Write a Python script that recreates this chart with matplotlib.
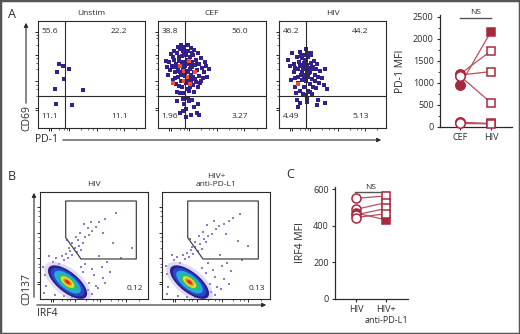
import matplotlib
matplotlib.use('Agg')
import matplotlib.pyplot as plt
from matplotlib.patches import Ellipse, Polygon, Rectangle, FancyArrowPatch
from matplotlib.ticker import FixedLocator

plt.rcParams['font.family'] = ['Open Sans', 'DejaVu Sans']

W, H = 520, 334
fig = plt.figure(figsize=(5.2, 3.34), dpi=100)

NAVY = '#33208c'
RED = '#a8283d'
LINE = '#b8505e'
DARK = '#2a2a2a'

# ---------------- DATA ----------------
# Panel A dot plots (units 0-100 within each plot)
unstim_x = [23.4, 17.8, 29.0, 24.3, 15.9, 42.0, 16.8, 31.8, 20.0]
unstim_y = [57.9, 52.3, 55.1, 45.8, 36.4, 35.5, 22.4, 21.5, 60.0]

cef_x = [10.4, 12.7, 14.2, 15.6, 16.3, 17.8, 18.5, 18.1, 19.6, 20.3, 20.8, 21.4, 21.9, 22.6, 22.2,
         23.5, 23.1, 24.7, 24.2, 25.4, 25.9, 26.6, 26.1, 27.3, 27.8, 28.4, 28.9, 29.2, 29.7, 30.5,
         30.1, 31.6, 31.2, 32.8, 32.3, 33.4, 34.7, 34.1, 35.5, 36.2, 37.6, 38.3, 39.5, 40.8, 42.4,
         44.1, 45.3, 47.2, 13.5, 11.2, 8.6, 9.3, 7.4, 14.8, 16.7, 19.2, 17.4, 20.6, 23.8, 26.4,
         29.5, 33.1, 36.7, 38.5, 41.3, 43.6, 40.2, 37.1, 33.7, 30.8, 27.5, 24.4, 21.1, 18.8, 22.9,
         25.6, 19.9, 15.2, 12.3, 28.1, 30.3, 26.9, 23.3, 21.6, 24.5, 27.1, 32.5, 35.2, 18.3, 16.1,
         14.6, 31.4, 36.4, 29.8, 25.2, 22.4,
         22.7, 24.1, 26.3, 28.6, 30.2, 20.5, 33.3, 35.8, 38.1, 25.5, 27.4, 23.6, 31.7, 17.2, 36.6]
cef_y = [62, 58, 66, 52, 60, 70, 48, 56, 63, 74, 52, 44, 59, 67, 38, 55, 62, 49, 70, 58,
         42, 64, 53, 47, 72, 60, 35, 55, 66, 50, 44, 62, 57, 40, 68, 52, 59, 46, 64, 54,
         49, 60, 44, 56, 52, 58, 48, 55, 45, 54, 57, 50, 63, 72, 41, 39, 34, 33, 33, 36,
         38, 34, 38, 42, 47, 62, 65, 70, 73, 75, 78, 76, 78, 76, 72, 68, 66, 64, 69, 52,
         58, 45, 44, 50, 57, 61, 48, 43, 53, 47, 57, 70, 60, 46, 51, 61,
         27, 22, 18, 25, 12, 14, 20, 14, 12, 10, 28, 16, 26, 25, 22]
cef_red_x = [29, 24, 34, 13.6, 24, 30, 20, 27]
cef_red_y = [63, 53.6, 52.6, 42.3, 44, 41, 58, 48]

hiv_x = [8.3, 10.6, 12.2, 13.7, 14.4, 15.1, 16.8, 17.3, 18.6, 18.2, 19.5, 20.7, 20.2, 21.8, 21.3,
         22.4, 22.9, 23.2, 23.7, 24.5, 24.1, 24.8, 25.3, 25.7, 26.2, 26.6, 26.9, 27.4, 27.1, 28.3,
         28.7, 29.5, 29.1, 30.6, 30.2, 31.3, 31.8, 32.4, 33.2, 33.7, 34.5, 35.3, 36.6, 37.2, 38.4,
         40.3, 41.6, 43.2, 45.1, 11.4, 14.7, 16.2, 19.3, 22.1, 25.5, 28.8, 31.2, 34.3, 17.6, 15.4,
         20.4, 26.3, 29.7, 32.2, 23.5, 21.6, 27.7, 19.8, 24.3, 30.4,
         16.5, 19.6, 25.9, 25.9, 36.8, 43.0, 17.8, 35.4]
hiv_y = [64, 58, 70, 52, 60, 47, 66, 55, 62, 42, 71, 50, 58, 65, 45, 55, 38, 61, 68, 50,
         57, 74, 44, 63, 53, 59, 35, 48, 66, 56, 41, 61, 52, 46, 70, 57, 38, 63, 50, 44,
         55, 60, 48, 42, 53, 47, 40, 55, 36, 45, 38, 33, 35, 32, 31, 34, 32, 37, 48, 56,
         67, 70, 68, 57, 46, 52, 51, 59, 64, 55,
         26, 23, 28, 24.6, 26, 23, 20, 21.5]
hiv_red_x = [17.5]
hiv_red_y = [40.8]

dot_titles = ['Unstim', 'CEF', 'HIV']
quad_labels = [['55.6', '22.2', '11.1', '11.1'],
               ['38.8', '56.0', '1.96', '3.27'],
               ['46.2', '44.2', '4.49', '5.13']]

# PD-1 MFI (panel A right)
pd1_groups = ['CEF', 'HIV']
pd1_cef = [950, 1200, 1180, 1160, 110, 80]
pd1_hiv = [2170, 1730, 1260, 550, 80, 70]
pd1_filled = [True, False, False, False, False, False]

# Panel B: gate polygon & sparse events (units 0-100)
gate_x = [23.8, 89.2, 89.2, 38.0, 23.8]
gate_y = [91.6, 91.6, 37.4, 37.4, 57.3]
b_titles = ['HIV', 'HIV+\nanti-PD-L1']
b_gate_pct = ['0.12', '0.13']
b1_x = [12, 15, 18, 20, 22, 24, 26, 28, 30, 32, 34, 36, 38, 35, 40, 42, 45, 48, 52, 44,
        55, 60, 70, 85, 57, 50, 45, 48, 52, 40, 42, 38, 55, 62, 58, 65, 5, 3, 8, 10,
        6, 4, 14, 22, 30, 36, 44, 48, 54, 60, 33, 30, 27, 25, 37, 41, 47, 58, 75, 68]
b1_y = [35, 38, 33, 40, 36, 42, 38, 45, 41, 48, 44, 50, 46, 55, 52, 58, 60, 64, 67, 66,
        72, 75, 80, 48, 30, 22, 15, 28, 12, 25, 33, 30, 40, 35, 20, 25, 22, 30, 40, 28,
        12, 6, 4, 3, 2, 6, 8, 5, 10, 15, 58, 52, 48, 55, 62, 70, 72, 62, 38, 52]
b2_x = [11, 14, 17, 19, 21, 23, 25, 27, 29, 31, 33, 35, 37, 39, 41, 43, 46, 50, 53, 57,
        62, 66, 72, 80, 56, 49, 44, 47, 51, 41, 43, 37, 54, 60, 57, 64, 5, 4, 9, 11,
        6, 5, 15, 23, 31, 37, 45, 49, 55, 62, 34, 31, 28, 26, 38, 42, 48, 59, 74, 70]
b2_y = [36, 39, 34, 41, 37, 43, 39, 46, 42, 49, 45, 51, 47, 56, 53, 59, 61, 65, 68, 70,
        73, 76, 79, 50, 31, 21, 14, 27, 11, 24, 34, 29, 41, 34, 19, 26, 23, 31, 41, 27,
        11, 5, 3, 2, 2, 5, 7, 4, 9, 14, 59, 53, 49, 56, 63, 69, 73, 61, 36, 54]

# Panel C: IRF4 MFI
irf_groups = ['HIV', 'HIV+\nanti-PD-L1']
irf_hiv = [550, 490, 470, 460, 445]
irf_pdl1 = [563, 527, 432, 495, 466]
irf_filled = [False, False, True, False, False]


# ---------------- HELPERS ----------------
def ax_px(x0, y0, x1, y1):
    return fig.add_axes([x0 / W, 1 - y1 / H, (x1 - x0) / W, (y1 - y0) / H])


def ftext(x, y, s, **kw):
    fig.text(x / W, 1 - y / H, s, **kw)


def farrow(x0, y0, x1, y1):
    fig.add_artist(FancyArrowPatch((x0 / W, 1 - y0 / H), (x1 / W, 1 - y1 / H),
                                   transform=fig.transFigure, arrowstyle='-|>',
                                   mutation_scale=6, lw=0.8, color=DARK))


def flow_ticks(ax, yt, xt, ymin, xmin):
    ax.yaxis.set_major_locator(FixedLocator(yt))
    ax.xaxis.set_major_locator(FixedLocator(xt))
    ax.yaxis.set_minor_locator(FixedLocator(ymin))
    ax.xaxis.set_minor_locator(FixedLocator(xmin))
    ax.tick_params(which='major', length=2.2, width=0.7, color=DARK,
                   labelleft=False, labelbottom=False)
    ax.tick_params(which='minor', length=1.2, width=0.5, color=DARK)
    for s in ax.spines.values():
        s.set_linewidth(0.8)
        s.set_color(DARK)


# ---------------- PANEL A dot plots ----------------
dot_boxes = [(38, 21, 145, 128), (158, 21, 266, 128), (279, 21, 386, 128)]
dot_data = [(unstim_x, unstim_y, [], []),
            (cef_x, cef_y, cef_red_x, cef_red_y),
            (hiv_x, hiv_y, hiv_red_x, hiv_red_y)]
for box, title, (xs, ys, rx, ry), ql in zip(dot_boxes, dot_titles, dot_data, quad_labels):
    ax = ax_px(*box)
    ax.set_xlim(0, 100)
    ax.set_ylim(0, 100)
    ax.scatter(xs, ys, s=5, marker='s', color=NAVY, linewidths=0, zorder=2)
    if rx:
        ax.scatter(rx, ry, s=5, marker='s', color='#e8552e', linewidths=0, zorder=3)
    ax.axvline(25, color=DARK, lw=0.8, zorder=4)
    ax.axhline(30, color=DARK, lw=0.8, zorder=4)
    ax.text(11, 90, ql[0], fontsize=6, ha='center', va='center', color=DARK)
    ax.text(76, 90, ql[1], fontsize=6, ha='center', va='center', color=DARK)
    ax.text(11, 11, ql[2], fontsize=6, ha='center', va='center', color=DARK)
    ax.text(76, 11, ql[3], fontsize=6, ha='center', va='center', color=DARK)
    ax.set_title(title, fontsize=6, pad=4, color=DARK)
    flow_ticks(ax, [17, 19, 44, 68, 90], [10, 12, 29, 55, 80],
               [30, 36, 40, 55, 61, 65, 78, 84, 87],
               [20, 24, 27, 40, 47, 51, 66, 73, 77, 92])

ftext(12, 15, 'A', fontsize=9, ha='center', va='center', color=DARK)
farrow(26, 106, 26, 20)
ftext(27, 118, 'CD69', fontsize=7.5, rotation=90, ha='center', va='center', color=DARK)
ftext(46, 140, 'PD-1', fontsize=7.5, ha='center', va='center', color=DARK)
farrow(60, 140, 384, 140)

# ---------------- PD-1 MFI ----------------
axp = ax_px(440, 15, 512, 127)
axp.set_ylim(0, 2545)
axp.set_xlim(-0.645, 1.677)
for i in range(len(pd1_cef)):
    axp.plot([0, 1], [pd1_cef[i], pd1_hiv[i]], color=LINE, lw=0.9, zorder=2)
for i in range(len(pd1_cef)):
    fc = RED if pd1_filled[i] else 'white'
    axp.plot(0, pd1_cef[i], marker='o', ms=6.8, mfc=fc, mec=RED, mew=1.1,
             zorder=3, clip_on=False)
    axp.plot(1, pd1_hiv[i], marker='s', ms=6.3, mfc=fc, mec=RED, mew=1.1,
             zorder=3, clip_on=False)
axp.spines['top'].set_visible(False)
axp.spines['right'].set_visible(False)
for s in ('left', 'bottom'):
    axp.spines[s].set_linewidth(0.9)
    axp.spines[s].set_color(DARK)
axp.set_yticks([0, 500, 1000, 1500, 2000, 2500])
axp.yaxis.set_minor_locator(FixedLocator([250, 750, 1250, 1750, 2250]))
axp.set_xticks([0, 1])
axp.set_xticklabels(pd1_groups)
axp.tick_params(labelsize=6.5, length=2.5, width=0.8, color=DARK, labelcolor=DARK, pad=2)
axp.tick_params(which='minor', length=1.5, width=0.6, color=DARK)
axp.set_ylabel('PD-1 MFI', fontsize=7.5, color=DARK, labelpad=5)
axp.plot([0, 1], [2477, 2477], color='#555555', lw=1.0, clip_on=False)
axp.text(0.5, 2600, 'NS', fontsize=6, ha='center', va='center', color=DARK)

# ---------------- PANEL B ----------------
b_boxes = [(40, 192, 148, 299), (162, 192, 270, 299)]
b_events = [(b1_x, b1_y), (b2_x, b2_y)]
dens_colors = ['#b9b0e4', '#2b1d8c', '#2448c8', '#26a8e0', '#2cc069', '#e6e22c',
               '#f08a22', '#e02a1e']
dens_w = [52, 44, 38, 30, 21, 15, 10, 5.5]
dens_h = [25, 19, 16, 13, 9.5, 7, 4.5, 2.6]
for box, title, (ex, ey), pct in zip(b_boxes, b_titles, b_events, b_gate_pct):
    ax = ax_px(*box)
    ax.set_xlim(0, 100)
    ax.set_ylim(0, 100)
    ax.scatter(ex, ey, s=1.5, marker='s', color='#8a7cd0', linewidths=0, zorder=1)
    for w, h, c in zip(dens_w, dens_h, dens_colors):
        ax.add_patch(Ellipse((25.5, 15.8), w, h, angle=-39, facecolor=c,
                             edgecolor='none', alpha=0.45 if c == '#b9b0e4' else 1,
                             zorder=2))
    ax.add_patch(Polygon(list(zip(gate_x, gate_y)), closed=True, fill=False,
                         edgecolor='#444444', lw=0.9, zorder=4))
    ax.text(88, 10, pct, fontsize=6, ha='center', va='center', color=DARK)
    ax.set_title(title, fontsize=6, pad=4, color=DARK, linespacing=1.3)
    flow_ticks(ax, [14, 16, 38, 62, 86], [10, 12, 32, 56, 80],
               [25, 30, 33, 48, 54, 58, 72, 78, 82],
               [20, 25, 28, 43, 49, 53, 66, 72, 76, 92])

ftext(12, 176, 'B', fontsize=9, ha='center', va='center', color=DARK)
farrow(34, 300, 34, 190)
farrow(34, 305, 269, 305)
ftext(27, 289, 'CD137', fontsize=7.5, rotation=90, ha='center', va='center', color=DARK)
ftext(47, 314, 'IRF4', fontsize=7.5, ha='center', va='center', color=DARK)

# ---------------- PANEL C ----------------
axc = ax_px(335, 187, 408, 299)
axc.set_ylim(0, 612)
axc.set_xlim(-0.7, 1.73)
for i in range(len(irf_hiv)):
    axc.plot([0, 1], [irf_hiv[i], irf_pdl1[i]], color=LINE, lw=0.9, zorder=2)
for i in range(len(irf_hiv)):
    fc = RED if irf_filled[i] else 'white'
    axc.plot(0, irf_hiv[i], marker='o', ms=6.5, mfc=fc, mec=RED, mew=1.1,
             zorder=3, clip_on=False)
    axc.plot(1, irf_pdl1[i], marker='s', ms=6, mfc=fc, mec=RED, mew=1.1,
             zorder=3, clip_on=False)
axc.spines['top'].set_visible(False)
axc.spines['right'].set_visible(False)
for s in ('left', 'bottom'):
    axc.spines[s].set_linewidth(0.9)
    axc.spines[s].set_color(DARK)
axc.set_yticks([0, 200, 400, 600])
axc.set_xticks([0, 1])
axc.set_xticklabels(irf_groups, linespacing=1.3)
axc.tick_params(labelsize=6.5, length=2.5, width=0.8, color=DARK, labelcolor=DARK, pad=2)
axc.set_ylabel('IRF4 MFI', fontsize=7.5, color=DARK, labelpad=5)
axc.plot([-0.05, 1.05], [583, 583], color='#555555', lw=1.0, clip_on=False)
axc.text(0.5, 611, 'NS', fontsize=6, ha='center', va='center', color=DARK)
ftext(290, 175, 'C', fontsize=9, ha='center', va='center', color=DARK)

# frame
fig.add_artist(Rectangle((0, 0), 1, 1, transform=fig.transFigure, fill=False,
                         edgecolor='#555555', lw=2.5))

fig.savefig('out.png', dpi=100)
